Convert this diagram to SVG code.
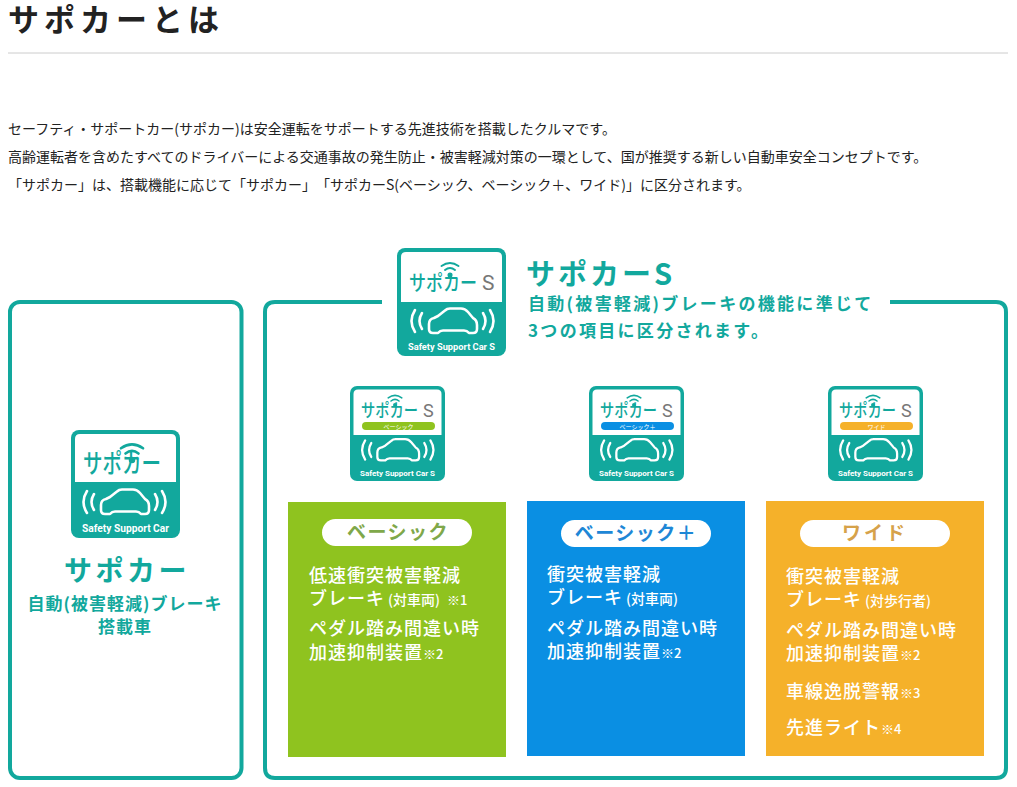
<svg xmlns="http://www.w3.org/2000/svg" xmlns:xlink="http://www.w3.org/1999/xlink" width="1017" height="787" viewBox="0 0 1017 787">
<style>
text{font-family:"Noto Sans CJK JP","Noto Sans",sans-serif;text-spacing-trim:space-all}
.body{font-size:14px;fill:#222}
.teal{fill:#12a89d;font-weight:700}
.sub{font-size:17px;letter-spacing:2.300px}
.frame{fill:none;stroke:#12a89d;stroke-width:4}
.w{fill:#fff;font-size:18px;font-weight:500;letter-spacing:1px}
.w .s{font-size:14px;letter-spacing:0}
.w .n{font-size:13px;letter-spacing:0}
.pill{font-size:19px;font-weight:700;letter-spacing:1.500px;text-anchor:middle}
.cap{font-family:Roboto,sans-serif;font-weight:700;fill:#fff}
.lg{fill:#12a89d;font-weight:500}
.lgs{fill:#777;font-family:Roboto,sans-serif}
.tag{font-size:6px;fill:#fff;text-anchor:middle}
.car{fill:none;stroke:#fff;stroke-width:2.6;stroke-linecap:round;stroke-linejoin:round}
.wifi{fill:none;stroke:#12a89d;stroke-width:2;stroke-linecap:round}
</style>
<defs>
<g id="carwaves" class="car">
<path d="M36 85Q32 85 32 81V76Q32 71 37 70L41 68L48 62.500Q50 60.500 53 60.500H64Q68 60.500 71 64L76 70Q80 72 80 77V81Q80 85 76 85H72Q70 82.500 67 82.500H46Q43 82.500 41 85Z"/>
<path d="M25 65Q20 73 25 81M18 62Q11 73 18 84M86 65Q91 73 86 81M93 62Q100 73 93 84"/>
</g>
<g id="wifi" class="wifi">
<circle cx="0" cy="0" r="1.500" fill="#12a89d"/>
<path d="M-5 -5Q0 -9 5 -5M-8.500 -9Q0 -15 8.500 -9"/>
</g>
<g id="smallbase">
<rect x="0" y="0" width="95" height="95" rx="7" fill="#12a89d"/>
<path d="M3.500 49V8Q3.500 3.500 8 3.500H87Q91.500 3.500 91.500 8V49Z" fill="#fff"/>
<use xlink:href="#carwaves" transform="translate(-0.500 0.500) scale(.87)"/>
<text class="cap" x="47.500" y="90" font-size="8" text-anchor="middle" textLength="75" lengthAdjust="spacingAndGlyphs">Safety Support Car S</text>
<use xlink:href="#wifi" transform="translate(45 19) scale(.8)"/>
<text class="lg" x="11" y="31" font-size="18" textLength="57" lengthAdjust="spacingAndGlyphs">サポカー</text>
<text class="lgs" x="73" y="31" font-size="18">S</text>
</g>
</defs>

<g id="title">
<text x="8" y="31" font-size="31" font-weight="700" letter-spacing="5" fill="#222">サポカーとは</text>
<line x1="8" y1="53" x2="1008" y2="53" stroke="#ccc" stroke-width="1"/>
</g>
<g id="intro">
<text class="body" x="8" y="134">セーフティ・サポートカー(サポカー)は安全運転をサポートする先進技術を搭載したクルマです。</text>
<text class="body" x="8" y="162">高齢運転者を含めたすべてのドライバーによる交通事故の発生防止・被害軽減対策の一環として、国が推奨する新しい自動車安全コンセプトです。</text>
<text class="body" x="8" y="190">「サポカー」は、搭載機能に応じて「サポカー」「サポカーS(ベーシック、ベーシック&#xFF0B;、ワイド)」に区分されます。</text>
</g>

<g id="frames">
<rect class="frame" x="10" y="302" width="231.500" height="476" rx="10"/>
<path class="frame" d="M382 302H275Q265 302 265 312V768Q265 778 275 778H996Q1006 778 1006 768V312Q1006 302 996 302H890"/>
</g>

<g id="node-sapoca">
<g transform="translate(71 430)">
<rect x="0" y="0" width="109" height="108" rx="8" fill="#12a89d"/>
<path d="M4 52V9Q4 4 9 4H100Q105 4 105 9V52Z" fill="#fff"/>
<use xlink:href="#carwaves" transform="translate(-2 -1)"/>
<use xlink:href="#wifi" transform="translate(61 30) scale(1.300)"/>
<text class="lg" x="12" y="43" font-size="26" textLength="78" lengthAdjust="spacingAndGlyphs">サポカー</text>
<text class="cap" x="54.500" y="102" font-size="10" text-anchor="middle" textLength="87" lengthAdjust="spacingAndGlyphs">Safety Support Car</text>
</g>
<text class="teal" x="127" y="581" font-size="28" letter-spacing="3.500" text-anchor="middle">サポカー</text>
<text class="teal" x="125" y="610" font-size="17" letter-spacing="1" text-anchor="middle">自動(被害軽減)ブレーキ</text>
<text class="teal" x="125" y="633" font-size="17" letter-spacing="1" text-anchor="middle">搭載車</text>
</g>

<g id="node-sapocas">
<g transform="translate(397 248)">
<rect x="0" y="0" width="109" height="108" rx="8" fill="#12a89d"/>
<path d="M4 54V9Q4 4 9 4H100Q105 4 105 9V54Z" fill="#fff"/>
<use xlink:href="#carwaves"/>
<use xlink:href="#wifi" transform="translate(53 27)"/>
<text class="lg" x="12" y="42" font-size="21" textLength="68" lengthAdjust="spacingAndGlyphs">サポカー</text>
<text class="lgs" x="85" y="42" font-size="21">S</text>
<text class="cap" x="54.500" y="102" font-size="9.500" text-anchor="middle" textLength="87" lengthAdjust="spacingAndGlyphs">Safety Support Car S</text>
</g>
<text class="teal" x="526" y="285" font-size="29" letter-spacing="3">サポカーS</text>
<text class="teal sub" x="528" y="310">自動(被害軽減)ブレーキの機能に準じて</text>
<text class="teal sub" x="528" y="337">3つの項目に区分されます。</text>
</g>

<g id="node-basic">
<g transform="translate(350 386)">
<use xlink:href="#smallbase"/>
<rect x="12" y="36" width="73" height="8" rx="4" fill="#8fc31f"/>
<text class="tag" x="48.500" y="42.500">ベーシック</text>
</g>
<rect x="288" y="502" width="218" height="255" fill="#8fc31f"/>
<rect x="322" y="519" width="150" height="27" rx="13.500" fill="#fff"/>
<text class="pill" x="398" y="539" fill="#7fa84a">ベーシック</text>
<text class="w" x="309" y="582">低速衝突被害軽減</text>
<text class="w" x="309" y="605">ブレーキ<tspan class="s" dx="3">(対車両)</tspan><tspan class="n" dx="7">※1</tspan></text>
<text class="w" x="309" y="635">ペダル踏み間違い時</text>
<text class="w" x="309" y="659">加速抑制装置<tspan class="n">※2</tspan></text>
</g>

<g id="node-basicplus">
<g transform="translate(589 386)">
<use xlink:href="#smallbase"/>
<rect x="12" y="36" width="73" height="8" rx="4" fill="#0a8fe3"/>
<text class="tag" x="48.500" y="42.500">ベーシック&#xFF0B;</text>
</g>
<rect x="527" y="501" width="218" height="255" fill="#0a8fe3"/>
<rect x="561" y="520" width="150" height="27" rx="13.500" fill="#fff"/>
<text class="pill" x="636" y="540" fill="#1e87d6">ベーシック&#xFF0B;</text>
<text class="w" x="547" y="581">衝突被害軽減</text>
<text class="w" x="547" y="604">ブレーキ<tspan class="s" dx="3">(対車両)</tspan></text>
<text class="w" x="547" y="635">ペダル踏み間違い時</text>
<text class="w" x="547" y="658">加速抑制装置<tspan class="n">※2</tspan></text>
</g>

<g id="node-wide">
<g transform="translate(828 386)">
<use xlink:href="#smallbase"/>
<rect x="12" y="36" width="73" height="8" rx="4" fill="#f5b12a"/>
<text class="tag" x="48.500" y="42.500">ワイド</text>
</g>
<rect x="766" y="501" width="218" height="255" fill="#f5b12a"/>
<rect x="800" y="520" width="150" height="27" rx="13.500" fill="#fff"/>
<text class="pill" style="letter-spacing:3px" x="875" y="540" fill="#d6a24a">ワイド</text>
<text class="w" x="786" y="583">衝突被害軽減</text>
<text class="w" x="786" y="606">ブレーキ<tspan class="s" dx="3">(対歩行者)</tspan></text>
<text class="w" x="786" y="637">ペダル踏み間違い時</text>
<text class="w" x="786" y="660">加速抑制装置<tspan class="n">※2</tspan></text>
<text class="w" x="786" y="698">車線逸脱警報<tspan class="n">※3</tspan></text>
<text class="w" x="786" y="734">先進ライト<tspan class="n">※4</tspan></text>
</g>
</svg>
